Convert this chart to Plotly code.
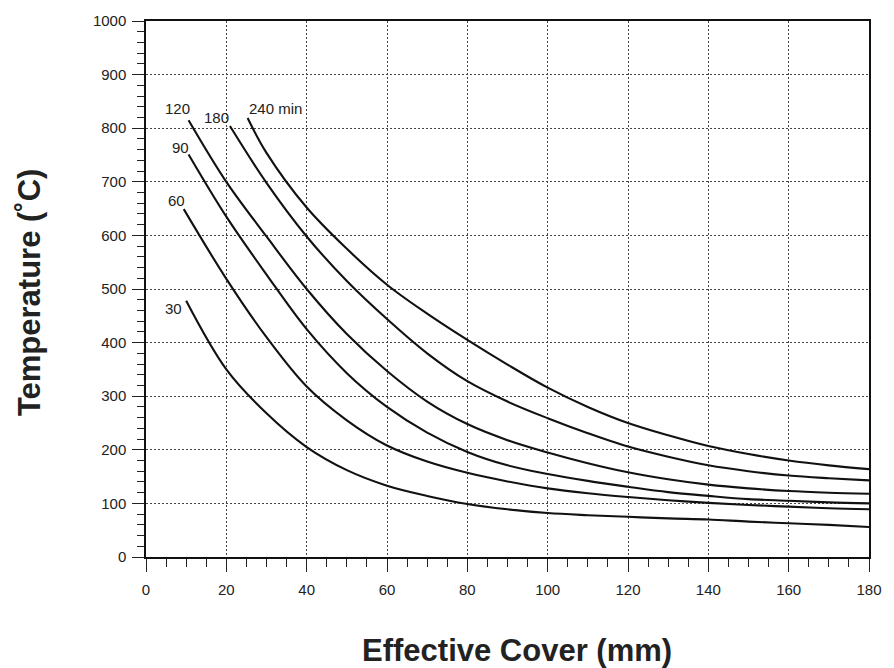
import plotly.graph_objects as go

# Effective cover (mm) and temperature (°C) for each fire duration curve
x_30 = [10, 20, 30, 40, 50, 60, 70, 80, 90, 100, 110, 120, 130, 140, 150, 160, 170, 180]
y_30 = [478, 350, 268, 205, 162, 133, 114, 99, 89, 82, 78, 75, 72, 70, 66, 63, 60, 56]

x_60 = [9.4, 20, 30, 40, 50, 60, 70, 80, 90, 100, 110, 120, 130, 140, 150, 160, 170, 180]
y_60 = [649, 519, 410, 318, 255, 208, 178, 157, 141, 128, 119, 112, 106, 101, 97, 94, 91, 89]

x_90 = [10.6, 20, 30, 40, 50, 60, 70, 80, 90, 100, 110, 120, 130, 140, 150, 160, 170, 180]
y_90 = [751, 635, 527, 425, 343, 280, 232, 196, 171, 155, 142, 131, 121, 114, 108, 105, 102, 100]

x_120 = [10.6, 20, 30, 40, 50, 60, 70, 80, 90, 100, 110, 120, 130, 140, 150, 160, 170, 180]
y_120 = [815, 700, 598, 500, 416, 347, 290, 248, 218, 195, 175, 158, 145, 135, 128, 123, 120, 118]

x_180 = [20.9, 30, 40, 50, 60, 70, 80, 90, 100, 110, 120, 130, 140, 150, 160, 170, 180]
y_180 = [804, 698, 598, 515, 444, 380, 328, 290, 259, 231, 206, 187, 171, 160, 152, 147, 143]

x_240 = [25.3, 30, 40, 50, 60, 70, 80, 90, 100, 110, 120, 130, 140, 150, 160, 170, 180]
y_240 = [819, 754, 652, 575, 508, 454, 405, 359, 316, 280, 250, 227, 207, 192, 180, 171, 164]

curve_labels = ["30", "60", "90", "120", "180", "240 min"]
label_x = [6.8, 7.7, 8.6, 7.9, 17.6, 32.3]
label_y = [463, 665, 764, 837, 820, 836]

x_ticks = list(range(0, 181, 20))
y_ticks = list(range(0, 1001, 100))

series = [(x_30, y_30), (x_60, y_60), (x_90, y_90),
          (x_120, y_120), (x_180, y_180), (x_240, y_240)]

FONT = "Liberation Sans, Arial, sans-serif"

fig = go.Figure()
for (xs, ys), name in zip(series, curve_labels):
    fig.add_trace(go.Scatter(
        x=xs, y=ys, mode="lines", name=name,
        line=dict(color="#111111", width=2.1, shape="spline", smoothing=1.0),
        showlegend=False, hoverinfo="x+y"))

for t, lx, ly in zip(curve_labels, label_x, label_y):
    fig.add_annotation(x=lx, y=ly, text=t, showarrow=False,
                       font=dict(family=FONT, size=15, color="#222222"),
                       xanchor="center", yanchor="middle")

axis_common = dict(
    showline=True, linecolor="#111111", linewidth=1.5, mirror=True,
    ticks="outside", tickcolor="#222222", tickwidth=1.3,
    showgrid=True, gridcolor="#444444", gridwidth=1, griddash="2px,2px",
    zeroline=False,
    tickfont=dict(family=FONT, size=15, color="#222222"),
)

fig.update_xaxes(range=[0, 180], tickvals=x_ticks, ticklen=13, ticklabelstandoff=5,
                 minor=dict(dtick=5, ticklen=8, ticks="outside",
                            tickcolor="#222222", tickwidth=1.2, showgrid=False),
                 **axis_common)
fig.update_yaxes(range=[0, 1000], tickvals=y_ticks, ticklen=12, ticklabelstandoff=3,
                 minor=dict(dtick=20, ticklen=7, ticks="outside",
                            tickcolor="#222222", tickwidth=1.2, showgrid=False),
                 **axis_common)

fig.add_annotation(text="Effective Cover (mm)", xref="paper", yref="paper",
                   x=0.513, y=-0.175, showarrow=False, xanchor="center", yanchor="middle",
                   font=dict(family=FONT, size=31, color="#222222", weight="bold"))
fig.add_annotation(text="Temperature (˚C)", xref="paper", yref="paper",
                   x=-0.162, y=0.494, showarrow=False, textangle=-90,
                   xanchor="center", yanchor="middle",
                   font=dict(family=FONT, size=31, color="#222222", weight="bold"))

fig.update_layout(
    width=894, height=668,
    margin=dict(l=146, r=15, t=17, b=111),
    paper_bgcolor="white", plot_bgcolor="white",
)

fig.write_html("out.html")
